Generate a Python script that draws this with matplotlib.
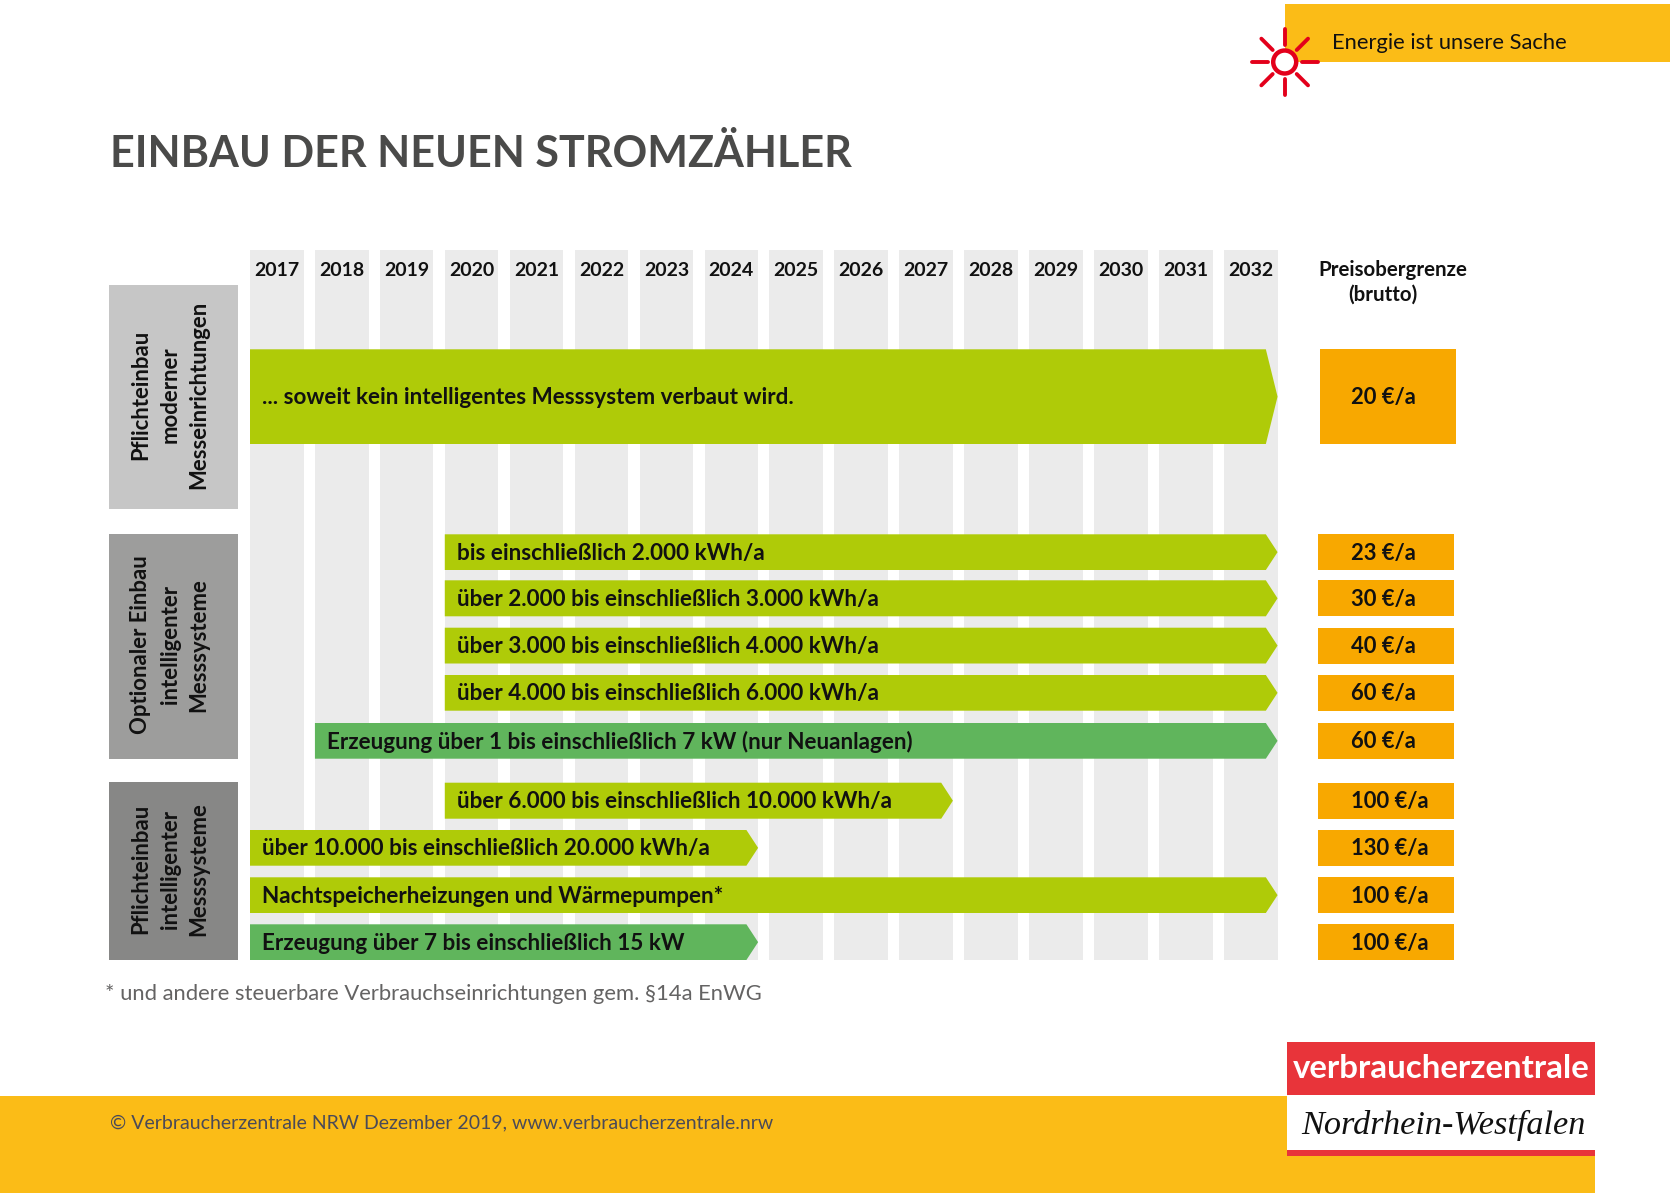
import numpy as np
import matplotlib
matplotlib.use('Agg')
import matplotlib.pyplot as plt
from matplotlib.patches import Rectangle, Polygon, Circle

# Zeitachse
years = list(range(2017, 2033))

# Balken: Text, erstes Jahr, letztes Jahr, Preisobergrenze
bar_labels = [
    '... soweit kein intelligentes Messsystem verbaut wird.',
    'bis einschließlich 2.000 kWh/a',
    'über 2.000 bis einschließlich 3.000 kWh/a',
    'über 3.000 bis einschließlich 4.000 kWh/a',
    'über 4.000 bis einschließlich 6.000 kWh/a',
    'Erzeugung über 1 bis einschließlich 7 kW (nur Neuanlagen)',
    'über 6.000 bis einschließlich 10.000 kWh/a',
    'über 10.000 bis einschließlich 20.000 kWh/a',
    'Nachtspeicherheizungen und Wärmepumpen*',
    'Erzeugung über 7 bis einschließlich 15 kW',
]
start_year = [2017, 2020, 2020, 2020, 2020, 2018, 2020, 2017, 2017, 2017]
end_year = [2032, 2032, 2032, 2032, 2032, 2032, 2027, 2024, 2032, 2024]
prices = [20, 23, 30, 40, 60, 60, 100, 130, 100, 100]
is_generation = [False, False, False, False, False, True, False, False, False, True]

categories = [
    ['Pflichteinbau', 'moderner', 'Messeinrichtungen'],
    ['Optionaler Einbau', 'intelligenter', 'Messsysteme'],
    ['Pflichteinbau', 'intelligenter', 'Messsysteme'],
]

# Layout in Pixeln (y von oben)
W, H = 1670, 1193
row_top = [349.3, 534.3, 580.3, 627.7, 675, 723, 782.7, 830, 877.3, 924.3]
row_bot = [444, 570, 616.3, 663.5, 710.7, 758.7, 818.7, 865.7, 913, 960]
cat_top = [285, 534.3, 782.3]
cat_bot = [509, 759, 960]
cat_colors = ['#C6C6C6', '#9D9D9C', '#878786']

GREEN = '#AFCB08'
DARK_GREEN = '#60B55C'
ORANGE = '#F8A800'
YELLOW = '#FBBC17'
RED = '#E8343A'
SUN = '#E3001B'
FONT = 'Lato'

px_year = 64.93
col_w = 53.6 / px_year
tip = 11.7 / px_year

fig = plt.figure(figsize=(W / 100, H / 100), dpi=100)

# Pixel-Achse fuer Rahmenelemente
pg = fig.add_axes([0, 0, 1, 1])
pg.set_xlim(0, W)
pg.set_ylim(H, 0)
pg.axis('off')

# Jahres-Achse fuer den Zeitplan: 2017 beginnt bei 250 px
ax = fig.add_axes([0, 0, 1, 1])
ax.set_xlim(2017 - 250 / px_year, 2017 + (W - 250) / px_year)
ax.set_ylim(H, 0)
ax.axis('off')
ax.patch.set_alpha(0)

# Kopfband und Sonne
pg.add_patch(Rectangle((1285, 4), W - 1285, 58, color=YELLOW, lw=0))
pg.text(1332, 43, 'Energie ist unsere Sache', fontsize=15.8, family=FONT,
        color='#111111', va='center', ha='left')
sx, sy = 1284.7, 62
pg.add_patch(Circle((sx, sy), 11.5, fc='white', ec=SUN, lw=3.2, zorder=3))
for a in np.arange(0, 360, 45):
    c, s = np.cos(np.radians(a)), np.sin(np.radians(a))
    pg.plot([sx + 17 * c, sx + 33 * c], [sy + 17 * s, sy + 33 * s], color=SUN,
            lw=2.8, solid_capstyle='round', zorder=3)

# Titel
pg.text(110, 154, 'EINBAU DER NEUEN STROMZÄHLER', fontsize=31, family=FONT,
        weight='bold', color='#4A4A49', va='center', ha='left')

# Jahresspalten
ax.bar(years, [960 - 250] * len(years), bottom=250, width=col_w, align='edge',
       color='#EBEBEB', lw=0)
for y in years:
    ax.text(y + col_w / 2, 270, str(y), fontsize=14, family=FONT, weight='bold',
            ha='center', va='center', color='#111111')

pg.text(1392.5, 270, 'Preisobergrenze', fontsize=14.8, family=FONT, weight='bold',
        ha='center', va='center', color='#111111')
pg.text(1383, 295, '(brutto)', fontsize=14.8, family=FONT, weight='bold',
        ha='center', va='center', color='#111111')

# Kategorien links
line_x = [140.5, 170.5, 198.5]
for lines, t, b, col in zip(categories, cat_top, cat_bot, cat_colors):
    pg.add_patch(Rectangle((109, t), 129, b - t, color=col, lw=0))
    for lx, s in zip(line_x, lines):
        pg.text(lx, (t + b) / 2 - 2, s, rotation=90, fontsize=15.9, family=FONT,
                weight='bold', ha='center', va='center', color='#111111')

# Balken und Preise
for i, label in enumerate(bar_labels):
    t, b = row_top[i], row_bot[i]
    x0 = start_year[i]
    x1 = end_year[i] + col_w
    col = DARK_GREEN if is_generation[i] else GREEN
    ax.add_patch(Polygon([(x0, t), (x1 - tip, t), (x1, (t + b) / 2), (x1 - tip, b), (x0, b)],
                         closed=True, fc=col, lw=0, zorder=3))
    ax.text(x0 + 12 / px_year, (t + b) / 2 + 1, label, fontsize=16.2, family=FONT, weight='bold',
            ha='left', va='center', color='#111111', zorder=4)
    bx = 1319.7 if i == 0 else 1318.3
    pg.add_patch(Rectangle((bx, t), 136, b - t, color=ORANGE, lw=0))
    pg.text(1351, (t + b) / 2 + 1, f'{prices[i]} €/a', fontsize=15.8, family=FONT, weight='bold',
            ha='left', va='center', color='#111111')

# Fussnote
pg.text(105, 994, '* und andere steuerbare Verbrauchseinrichtungen gem. §14a EnWG',
        fontsize=15.85, family=FONT, color='#646363', ha='left', va='center')

# Fussband und Logo
pg.add_patch(Rectangle((0, 1096), 1595, H - 1096, color=YELLOW, lw=0))
pg.text(110, 1123, '© Verbraucherzentrale NRW Dezember 2019, www.verbraucherzentrale.nrw',
        fontsize=14, family=FONT, color='#4A4A58', ha='left', va='center')
pg.add_patch(Rectangle((1287, 1041.7), 308, 53.6, color=RED, lw=0))
pg.add_patch(Rectangle((1287, 1095.3), 308, 54.7, color='white', lw=0))
pg.add_patch(Rectangle((1287, 1150), 308, 6, color=RED, lw=0))
pg.text(1441, 1069, 'verbraucherzentrale', fontsize=23.8, family=FONT,
        weight='bold', color='white', ha='center', va='center')
pg.text(1443, 1125, 'Nordrhein-Westfalen', fontsize=24.7, family='Liberation Serif', style='italic',
        color='#111111', ha='center', va='center')

fig.savefig('out.png', dpi=100)
